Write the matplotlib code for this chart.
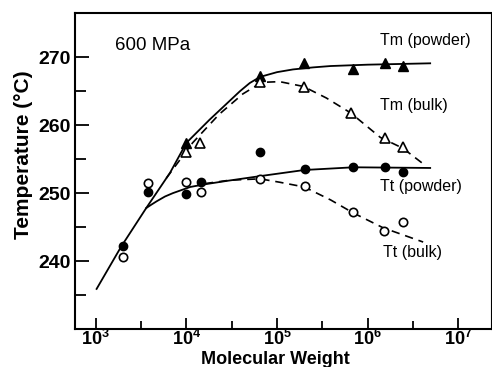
import matplotlib.pyplot as plt
import numpy as np

plt.rcParams['font.family'] = ['Liberation Sans', 'DejaVu Sans']
plt.rcParams['mathtext.fontset'] = 'custom'
plt.rcParams['mathtext.bf'] = 'Liberation Sans:bold'
plt.rcParams['mathtext.rm'] = 'Liberation Sans'

# measured points
mw_tm_powder = [1.0e4, 6.5e4, 2.0e5, 6.9e5, 1.55e6, 2.45e6]
t_tm_powder = [257.4, 267.2, 269.1, 268.2, 269.2, 268.7]

mw_tm_bulk = [1.0e4, 1.4e4, 6.5e4, 2.0e5, 6.5e5, 1.55e6, 2.45e6]
t_tm_bulk = [256.0, 257.4, 266.3, 265.6, 261.8, 258.1, 256.8]

mw_tt_powder = [2.0e3, 3.8e3, 1.0e4, 1.45e4, 6.5e4, 2.04e5, 6.9e5, 1.55e6, 2.45e6]
t_tt_powder = [242.2, 250.2, 249.9, 251.6, 256.0, 253.5, 253.8, 253.8, 253.1]

mw_tt_bulk = [2.0e3, 3.8e3, 1.0e4, 1.45e4, 6.5e4, 2.04e5, 6.9e5, 1.5e6, 2.45e6]
t_tt_bulk = [240.6, 251.5, 251.6, 250.1, 252.1, 251.0, 247.2, 244.4, 245.7]

# hand-drawn curves
mw_tm_fit = [1.02e3, 1.9e3, 3.6e3, 6.6e3, 1.0e4, 1.8e4, 2.7e4, 3.9e4, 5.0e4,
             6.5e4, 1.0e5, 1.5e5, 2.5e5, 3.9e5, 1.0e6, 4.9e6]
t_tm_fit = [235.9, 242.1, 247.8, 253.0, 257.4, 260.8, 263.0, 265.0, 266.2,
            267.1, 267.8, 268.2, 268.5, 268.7, 268.9, 269.1]

mw_tt_fit = [3.6e3, 4.1e3, 4.7e3, 5.8e3, 7.1e3, 1.1e4, 1.6e4, 2.8e4, 6.5e4,
             2.0e5, 7.0e5, 4.9e6]
t_tt_fit = [247.8, 248.3, 248.8, 249.5, 250.0, 250.9, 251.3, 251.8, 252.5,
            253.4, 253.8, 253.7]

mw_tm_dash = [6.0e3, 1.17e4, 2.3e4, 4.2e4, 6.8e4, 1.07e5, 1.95e5, 3.5e5,
              6.5e5, 1.38e6, 2.45e6, 4.3e6]
t_tm_dash = [252.2, 257.4, 261.6, 264.6, 266.3, 266.4, 265.7, 264.0,
             261.8, 258.2, 256.6, 254.1]

mw_tt_dash = [1.6e4, 3.0e4, 6.5e4, 1.07e5, 2.0e5, 3.9e5, 6.9e5, 1.48e6, 4.1e6]
t_tt_dash = [251.4, 251.9, 252.1, 251.6, 250.9, 249.0, 247.1, 244.9, 242.8]

x_ticks = [1e3, 1e4, 1e5, 1e6, 1e7]
x_ticklabels = [r'$\mathbf{10^{3}}$', r'$\mathbf{10^{4}}$', r'$\mathbf{10^{5}}$',
                r'$\mathbf{10^{6}}$', r'$\mathbf{10^{7}}$']
x_minor = [10**3.5, 10**4.5, 10**5.5, 10**6.5]
y_ticks = [240, 250, 260, 270]
y_minor = [235, 245, 255, 265]

fig = plt.figure(figsize=(4.92, 3.67), dpi=100)
ax = fig.add_axes([0.152, 0.1035, 0.846, 0.861])

dash = (0, (5, 3.5))
ax.plot(mw_tm_fit, t_tm_fit, color='black', lw=1.3)
ax.plot(mw_tt_fit, t_tt_fit, color='black', lw=1.3)
ax.plot(mw_tm_dash, t_tm_dash, color='black', lw=1.2, ls=dash)
ax.plot(mw_tt_dash, t_tt_dash, color='black', lw=1.2, ls=dash)

ax.plot(mw_tm_powder, t_tm_powder, '^', color='black', ms=6.5, ls='none')
ax.plot(mw_tm_bulk, t_tm_bulk, '^', mfc='white', mec='black', mew=1.2, ms=6.5, ls='none')
ax.plot(mw_tt_powder, t_tt_powder, 'o', color='black', ms=6, ls='none')
ax.plot(mw_tt_bulk, t_tt_bulk, 'o', mfc='white', mec='black', mew=1.2, ms=6, ls='none')

ax.set_xscale('log')
ax.set_xlim(586, 2.3e7)
ax.set_ylim(230, 276.5)

ax.set_xticks(x_ticks)
ax.set_xticklabels(x_ticklabels, fontsize=13)
ax.set_xticks(x_minor, minor=True)
ax.set_xticklabels([], minor=True)
ax.set_yticks(y_ticks)
ax.set_yticklabels([str(v) for v in y_ticks], fontsize=14, fontweight='bold')
ax.set_yticks(y_minor, minor=True)

ax.tick_params(which='both', direction='in', width=1.3, top=False, right=False)
ax.tick_params(axis='x', which='major', length=8, pad=0)
ax.tick_params(axis='x', which='minor', length=6)
ax.tick_params(axis='y', which='major', length=10, pad=3)
ax.tick_params(axis='y', which='minor', length=8)

for s in ax.spines.values():
    s.set_linewidth(1.5)
ax.spines['right'].set_linewidth(0.8)

ax.set_xlabel('Molecular Weight', fontsize=13, fontweight='bold')
ax.xaxis.label.set_verticalalignment('baseline')
ax.xaxis.set_label_coords(0.483, -0.111)
ax.set_ylabel('Temperature (°C)', fontsize=15, fontweight='bold')
ax.yaxis.set_label_coords(-0.101, 0.552)

ax.text(0.096, 0.898, '600 MPa', transform=ax.transAxes, fontsize=13.5, va='center')
ax.text(0.733, 0.912, 'Tm (powder)', transform=ax.transAxes, fontsize=11.5, va='center')
ax.text(0.733, 0.707, 'Tm (bulk)', transform=ax.transAxes, fontsize=11.5, va='center')
ax.text(0.733, 0.452, 'Tt (powder)', transform=ax.transAxes, fontsize=11.5, va='center')
ax.text(0.740, 0.243, 'Tt (bulk)', transform=ax.transAxes, fontsize=11.5, va='center')

fig.savefig('out.png', dpi=100)
